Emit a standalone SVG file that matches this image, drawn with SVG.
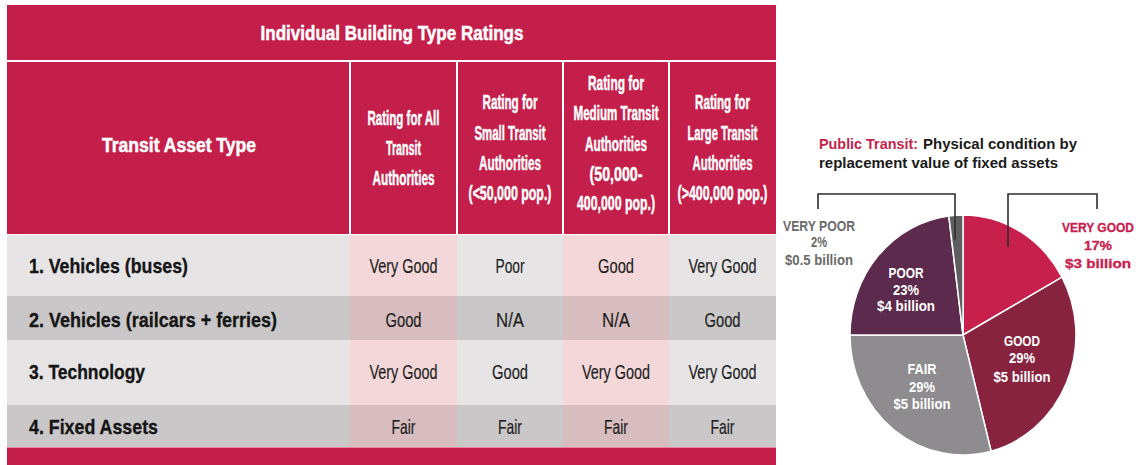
<svg xmlns="http://www.w3.org/2000/svg" width="1141" height="465" viewBox="0 0 1141 465">
<style>
  .red{fill:#c41f4a}
  .lt{fill:#e6e4e5}
  .dk{fill:#c9c7c8}
  .ltp{fill:#f4d8d9}
  .dkp{fill:#d7bdbf}
  .sep{stroke:#ffffff;stroke-width:2}
  text{font-family:"Liberation Sans",Arial,sans-serif}
  .hd{fill:#ffffff;stroke:#ffffff;stroke-width:0.5;font-weight:bold;font-size:20px;text-anchor:middle}
  .lbl{fill:#151515;stroke:#151515;stroke-width:0.35;font-weight:bold;font-size:21px}
  .val{fill:#1e1e1e;stroke:#1e1e1e;stroke-width:0.2;font-size:21px;text-anchor:middle}
  .ptitle{font-weight:bold;font-size:15.5px}
  .pl{font-weight:bold;font-size:14.5px;text-anchor:middle}
  .pls{font-weight:bold;font-size:13.5px;text-anchor:middle;stroke-width:0.3}
  .slice{stroke:#ffffff;stroke-width:1.5}
  .br{fill:none;stroke:#2e2e2e;stroke-width:1.6}
</style>
<rect width="1141" height="465" fill="#ffffff"/>

<g id="table">
  <g id="table-title">
    <rect class="red" x="7" y="5" width="769" height="55"/>
    <text class="hd" x="392" y="40" font-size="21" textLength="263" lengthAdjust="spacingAndGlyphs">Individual Building Type Ratings</text>
  </g>
  <g id="table-header">
    <rect class="red" x="7" y="62" width="769" height="172"/>
    <line class="sep" x1="350" y1="62" x2="350" y2="234"/>
    <line class="sep" x1="457" y1="62" x2="457" y2="234"/>
    <line class="sep" x1="563" y1="62" x2="563" y2="234"/>
    <line class="sep" x1="669" y1="62" x2="669" y2="234"/>
    <text class="hd" x="179" y="152" font-size="21" textLength="154" lengthAdjust="spacingAndGlyphs">Transit Asset Type</text>
    <text class="hd" x="403.5" y="125" textLength="72" lengthAdjust="spacingAndGlyphs">Rating for All</text>
    <text class="hd" x="403.5" y="155" textLength="35" lengthAdjust="spacingAndGlyphs">Transit</text>
    <text class="hd" x="403.5" y="185" textLength="62" lengthAdjust="spacingAndGlyphs">Authorities</text>
    <text class="hd" x="510" y="109" textLength="55" lengthAdjust="spacingAndGlyphs">Rating for</text>
    <text class="hd" x="510" y="140" textLength="71" lengthAdjust="spacingAndGlyphs">Small Transit</text>
    <text class="hd" x="510" y="170" textLength="62" lengthAdjust="spacingAndGlyphs">Authorities</text>
    <text class="hd" x="510" y="200" textLength="83" lengthAdjust="spacingAndGlyphs">(&lt;50,000 pop.)</text>
    <text class="hd" x="616" y="90" textLength="56" lengthAdjust="spacingAndGlyphs">Rating for</text>
    <text class="hd" x="616" y="120" textLength="85" lengthAdjust="spacingAndGlyphs">Medium Transit</text>
    <text class="hd" x="616" y="151" textLength="62" lengthAdjust="spacingAndGlyphs">Authorities</text>
    <text class="hd" x="616" y="181" textLength="53" lengthAdjust="spacingAndGlyphs">(50,000-</text>
    <text class="hd" x="616" y="210" textLength="78" lengthAdjust="spacingAndGlyphs">400,000 pop.)</text>
    <text class="hd" x="722.5" y="109" textLength="55" lengthAdjust="spacingAndGlyphs">Rating for</text>
    <text class="hd" x="722.5" y="140" textLength="70" lengthAdjust="spacingAndGlyphs">Large Transit</text>
    <text class="hd" x="722.5" y="170" textLength="60" lengthAdjust="spacingAndGlyphs">Authorities</text>
    <text class="hd" x="722.5" y="200" textLength="90" lengthAdjust="spacingAndGlyphs">(&gt;400,000 pop.)</text>
  </g>
  <g id="row-1">
    <rect class="lt" x="7" y="235" width="769" height="61"/>
    <rect class="ltp" x="350" y="235" width="107" height="61"/>
    <rect class="ltp" x="563" y="235" width="106" height="61"/>
    <text class="lbl" x="29" y="273" textLength="159" lengthAdjust="spacingAndGlyphs">1. Vehicles (buses)</text>
    <text class="val" x="403.5" y="273" textLength="68" lengthAdjust="spacingAndGlyphs">Very Good</text>
    <text class="val" x="510" y="273" textLength="29" lengthAdjust="spacingAndGlyphs">Poor</text>
    <text class="val" x="616" y="273" textLength="36" lengthAdjust="spacingAndGlyphs">Good</text>
    <text class="val" x="722.5" y="273" textLength="68" lengthAdjust="spacingAndGlyphs">Very Good</text>
  </g>
  <g id="row-2">
    <rect class="dk" x="7" y="296" width="769" height="44"/>
    <rect class="dkp" x="350" y="296" width="107" height="44"/>
    <rect class="dkp" x="563" y="296" width="106" height="44"/>
    <text class="lbl" x="29" y="327" textLength="248" lengthAdjust="spacingAndGlyphs">2. Vehicles (railcars + ferries)</text>
    <text class="val" x="403.5" y="327" textLength="36" lengthAdjust="spacingAndGlyphs">Good</text>
    <text class="val" x="510" y="327" textLength="28" lengthAdjust="spacingAndGlyphs">N/A</text>
    <text class="val" x="616" y="327" textLength="28" lengthAdjust="spacingAndGlyphs">N/A</text>
    <text class="val" x="722.5" y="327" textLength="36" lengthAdjust="spacingAndGlyphs">Good</text>
  </g>
  <g id="row-3">
    <rect class="lt" x="7" y="340" width="769" height="65"/>
    <rect class="ltp" x="350" y="340" width="107" height="65"/>
    <rect class="ltp" x="563" y="340" width="106" height="65"/>
    <text class="lbl" x="29" y="379" textLength="116" lengthAdjust="spacingAndGlyphs">3. Technology</text>
    <text class="val" x="403.5" y="379" textLength="68" lengthAdjust="spacingAndGlyphs">Very Good</text>
    <text class="val" x="510" y="379" textLength="36" lengthAdjust="spacingAndGlyphs">Good</text>
    <text class="val" x="616" y="379" textLength="68" lengthAdjust="spacingAndGlyphs">Very Good</text>
    <text class="val" x="722.5" y="379" textLength="68" lengthAdjust="spacingAndGlyphs">Very Good</text>
  </g>
  <g id="row-4">
    <rect class="dk" x="7" y="405" width="769" height="42"/>
    <rect class="dkp" x="350" y="405" width="107" height="42"/>
    <rect class="dkp" x="563" y="405" width="106" height="42"/>
    <text class="lbl" x="29" y="434" textLength="129" lengthAdjust="spacingAndGlyphs">4. Fixed Assets</text>
    <text class="val" x="403.5" y="434" textLength="24" lengthAdjust="spacingAndGlyphs">Fair</text>
    <text class="val" x="510" y="434" textLength="24" lengthAdjust="spacingAndGlyphs">Fair</text>
    <text class="val" x="616" y="434" textLength="24" lengthAdjust="spacingAndGlyphs">Fair</text>
    <text class="val" x="722.5" y="434" textLength="24" lengthAdjust="spacingAndGlyphs">Fair</text>
  </g>
  <g id="table-footer">
    <rect class="red" x="7" y="447" width="769" height="18"/>
    <line x1="7" y1="447.5" x2="776" y2="447.5" stroke="#e8879d" stroke-width="1"/>
  </g>
</g>

<g id="pie-title">
  <text class="ptitle" x="819" y="149" fill="#c41f4a" textLength="99" lengthAdjust="spacingAndGlyphs">Public Transit:</text>
  <text class="ptitle" x="923" y="149" fill="#1a1a1a" textLength="154" lengthAdjust="spacingAndGlyphs">Physical condition by</text>
  <text class="ptitle" x="819" y="168" fill="#1a1a1a" textLength="239" lengthAdjust="spacingAndGlyphs">replacement value of fixed assets</text>
</g>

<g id="pie">
  <g id="slice-very-good">
    <path class="slice" fill="#c8204d" d="M963,335 L963,215 A113,120 0 0 1 1062,277.2 Z"/>
  </g>
  <g id="slice-good">
    <path class="slice" fill="#88233f" d="M963,335 L1062,277.2 A113,120 0 0 1 991.1,451.2 Z"/>
    <text class="pl" x="1022" y="346" fill="#ffffff" textLength="36" lengthAdjust="spacingAndGlyphs">GOOD</text>
    <text class="pl" x="1022" y="363" fill="#ffffff" textLength="26" lengthAdjust="spacingAndGlyphs">29%</text>
    <text class="pl" x="1022" y="382" fill="#ffffff" textLength="57" lengthAdjust="spacingAndGlyphs">$5 billion</text>
  </g>
  <g id="slice-fair">
    <path class="slice" fill="#8e8c8f" d="M963,335 L991.1,451.2 A113,120 0 0 1 850,335 Z"/>
    <text class="pl" x="922" y="374" fill="#ffffff" textLength="29" lengthAdjust="spacingAndGlyphs">FAIR</text>
    <text class="pl" x="922" y="392" fill="#ffffff" textLength="26" lengthAdjust="spacingAndGlyphs">29%</text>
    <text class="pl" x="922" y="409" fill="#ffffff" textLength="57" lengthAdjust="spacingAndGlyphs">$5 billion</text>
  </g>
  <g id="slice-poor">
    <path class="slice" fill="#5c2a4c" d="M963,335 L850,335 A113,120 0 0 1 948.8,215.9 Z"/>
    <text class="pl" x="906" y="278" fill="#ffffff" textLength="35" lengthAdjust="spacingAndGlyphs">POOR</text>
    <text class="pl" x="906" y="295" fill="#ffffff" textLength="26" lengthAdjust="spacingAndGlyphs">23%</text>
    <text class="pl" x="906" y="311" fill="#ffffff" textLength="58" lengthAdjust="spacingAndGlyphs">$4 billion</text>
  </g>
  <g id="slice-very-poor">
    <path class="slice" fill="#5e5e60" d="M963,335 L948.8,215.9 A113,120 0 0 1 963,215 Z"/>
  </g>
</g>

<g id="label-very-poor">
  <text class="pl" x="819" y="231" fill="#6a6a6a" textLength="72" lengthAdjust="spacingAndGlyphs">VERY POOR</text>
  <text class="pl" x="819" y="247" fill="#6a6a6a" textLength="16" lengthAdjust="spacingAndGlyphs">2%</text>
  <text class="pl" x="819" y="265" fill="#6a6a6a" textLength="68" lengthAdjust="spacingAndGlyphs">$0.5 billion</text>
</g>
<g id="label-very-good">
  <text class="pls" x="1098" y="232" fill="#c8204d" stroke="#c8204d" textLength="72" lengthAdjust="spacingAndGlyphs">VERY GOOD</text>
  <text class="pls" x="1098" y="250" fill="#c8204d" stroke="#c8204d" textLength="28" lengthAdjust="spacingAndGlyphs">17%</text>
  <text class="pls" x="1098" y="268" fill="#c8204d" stroke="#c8204d" textLength="66" lengthAdjust="spacingAndGlyphs">$3 billion</text>
</g>

<g id="connectors">
  <polyline class="br" points="818,209 818,194 955,194 955,240"/>
  <polyline class="br" points="1008,247 1008,194 1097,194 1097,209"/>
</g>
</svg>
